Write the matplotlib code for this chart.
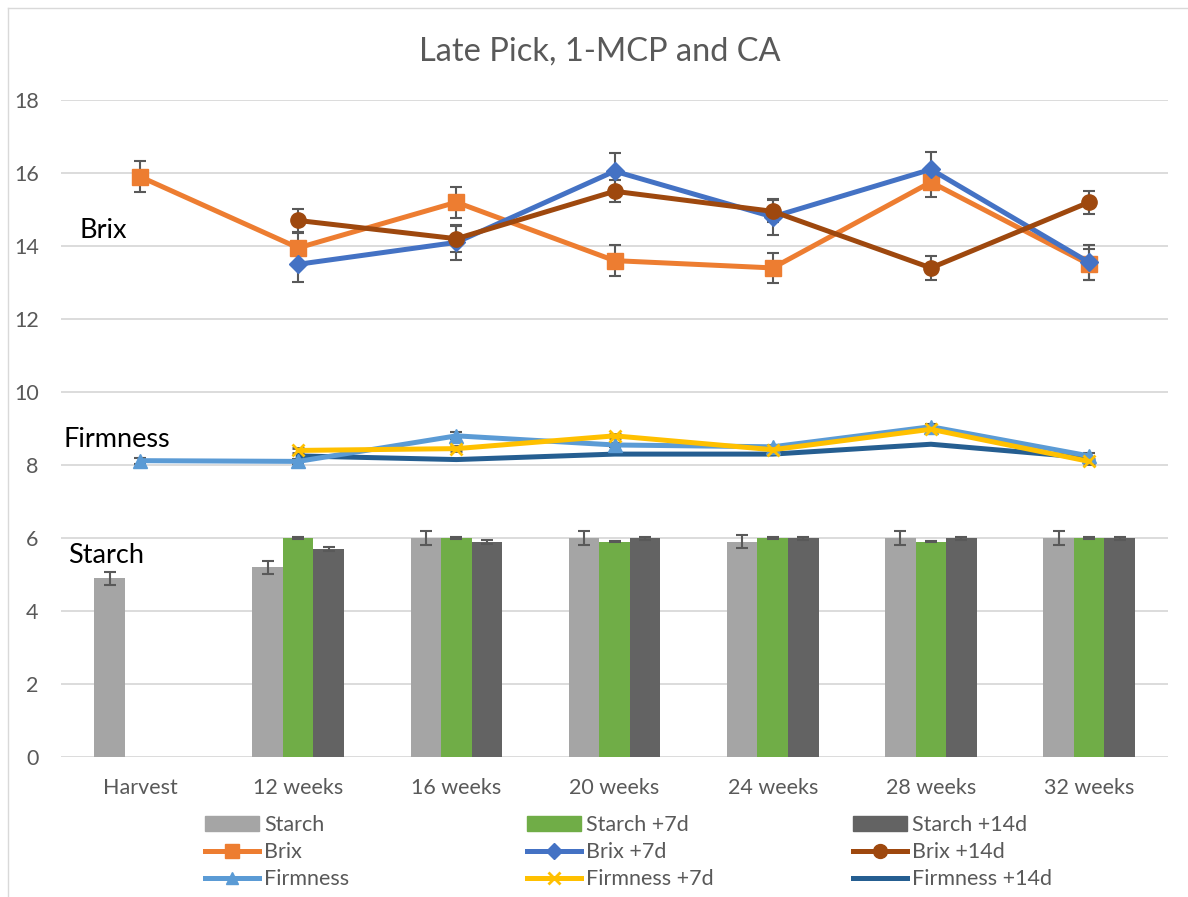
import numpy as np
import matplotlib.pyplot as plt
from matplotlib.lines import Line2D
from matplotlib.patches import Patch

plt.rcParams['font.family'] = ['Lato', 'DejaVu Sans']

cats = ['Harvest', '12 weeks', '16 weeks', '20 weeks', '24 weeks', '28 weeks', '32 weeks']

starch = [4.9, 5.2, 6.0, 6.0, 5.9, 6.0, 6.0]
starch_err = [0.18, 0.18, 0.18, 0.18, 0.18, 0.18, 0.18]
starch7 = [np.nan, 6.0, 6.0, 5.9, 6.0, 5.9, 6.0]
starch7_err = [0, 0.02, 0.02, 0.02, 0.02, 0.02, 0.02]
starch14 = [np.nan, 5.7, 5.9, 6.0, 6.0, 6.0, 6.0]
starch14_err = [0, 0.06, 0.05, 0.04, 0.04, 0.04, 0.04]

brix = [15.9, 13.95, 15.2, 13.6, 13.4, 15.75, 13.5]
brix_err = [0.42, 0.42, 0.42, 0.42, 0.42, 0.42, 0.42]
brix7 = [np.nan, 13.5, 14.1, 16.05, 14.8, 16.1, 13.55]
brix7_err = [0, 0.48, 0.47, 0.49, 0.5, 0.48, 0.48]
brix14 = [np.nan, 14.7, 14.2, 15.5, 14.95, 13.4, 15.2]
brix14_err = [0, 0.32, 0.35, 0.3, 0.3, 0.32, 0.32]

firm = [8.12, 8.1, 8.8, 8.55, 8.5, 9.05, 8.25]
firm_err = [0.08, 0.06, 0.1, 0.06, 0.06, 0.08, 0.08]
firm7 = [np.nan, 8.4, 8.45, 8.8, 8.42, 8.98, 8.1]
firm7_err = [0, 0.06, 0.06, 0.06, 0.05, 0.06, 0.06]
firm14 = [np.nan, 8.25, 8.15, 8.3, 8.3, 8.57, 8.2]

x = np.arange(len(cats))
w = 0.193

fig = plt.figure(figsize=(11.88, 8.97), dpi=100)
ax = fig.add_axes([0.0513, 0.156, 0.932, 0.7325])

ecol = '#595959'
bar_kw = dict(width=w, ecolor=ecol, capsize=4, error_kw=dict(elinewidth=1.5, capthick=1.5), zorder=2)
ax.bar(x - w, starch, yerr=starch_err, color='#A5A5A5', **bar_kw)
ax.bar(x, starch7, yerr=starch7_err, color='#70AD47', **bar_kw)
ax.bar(x + w, starch14, yerr=starch14_err, color='#636363', **bar_kw)

line_kw = dict(lw=3.6, ecolor=ecol, elinewidth=1.5, capsize=4.5, capthick=1.5, zorder=3)
ax.errorbar(x, brix, yerr=brix_err, color='#ED7D31', marker='s', ms=11, **line_kw)
ax.errorbar(x, brix7, yerr=brix7_err, color='#4472C4', marker='D', ms=9, **line_kw)
ax.errorbar(x, brix14, yerr=brix14_err, color='#9E480E', marker='o', ms=11, **line_kw)
ax.errorbar(x, firm, yerr=firm_err, color='#5B9BD5', marker='^', ms=10, **line_kw)
ax.errorbar(x, firm7, yerr=firm7_err, color='#FFC000', marker='x', ms=9, mew=2, **line_kw)
ax.plot(x, firm14, color='#255E91', lw=3.6, zorder=3)

ax.set_xlim(-0.5, len(cats) - 0.5)
ax.set_ylim(0, 18)
ax.set_yticks(range(0, 19, 2))
ax.set_xticks(x)
ax.set_xticklabels(cats)
ax.tick_params(length=0, labelsize=15.5, labelcolor='#595959')
ax.tick_params(axis='y', pad=16)
ax.tick_params(axis='x', pad=15)
ax.grid(axis='y', color='#D9D9D9', lw=1.3, zorder=0)
ax.set_axisbelow(True)
for s in ax.spines.values():
    s.set_visible(False)

fig.text(0.505, 1 - 52 / 897, 'Late Pick, 1-MCP and CA', ha='center', va='center', fontsize=23.5, color='#595959')
fig.text(80 / 1188, 1 - 230 / 897, 'Brix', fontsize=19.5, va='center')
fig.text(63 / 1188, 1 - 439 / 897, 'Firmness', fontsize=19.5, va='center')
fig.text(68 / 1188, 1 - 555 / 897, 'Starch', fontsize=19.5, va='center')

# chart frame (left / top)
fig.add_artist(Line2D([8 / 1188, 8 / 1188], [0, 1 - 8 / 897], color='#D9D9D9', lw=1))
fig.add_artist(Line2D([8 / 1188, 1], [1 - 8 / 897, 1 - 8 / 897], color='#D9D9D9', lw=1))

cols = [
    [Patch(color='#A5A5A5'),
     Line2D([], [], color='#ED7D31', lw=3.6, marker='s', ms=10),
     Line2D([], [], color='#5B9BD5', lw=3.6, marker='^', ms=9)],
    [Patch(color='#70AD47'),
     Line2D([], [], color='#4472C4', lw=3.6, marker='D', ms=8),
     Line2D([], [], color='#FFC000', lw=3.6, marker='x', ms=8, mew=2)],
    [Patch(color='#636363'),
     Line2D([], [], color='#9E480E', lw=3.6, marker='o', ms=10),
     Line2D([], [], color='#255E91', lw=3.6)],
]
labels = [['Starch', 'Brix', 'Firmness'],
          ['Starch +7d', 'Brix +7d', 'Firmness +7d'],
          ['Starch +14d', 'Brix +14d', 'Firmness +14d']]
starts = [205, 527, 853]
for h, l, sx in zip(cols, labels, starts):
    leg = fig.legend(h, l, loc='upper left', bbox_to_anchor=(sx / 1188, 1 - 815 / 897),
                     frameon=False, fontsize=15.5, labelcolor='#595959', handlelength=2.5,
                     handletextpad=0.25, labelspacing=0.33, borderpad=0, borderaxespad=0)

fig.savefig('out.png', dpi=100)
